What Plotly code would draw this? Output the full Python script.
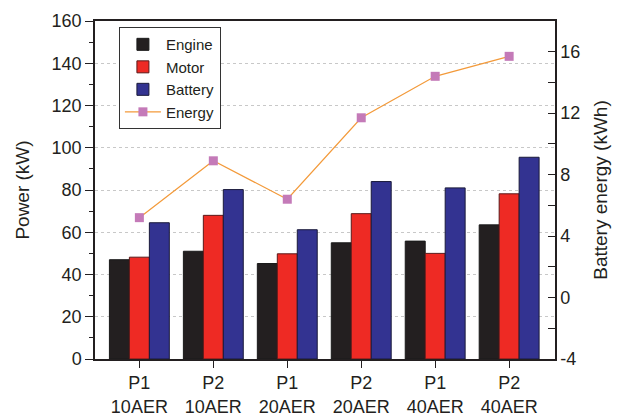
import plotly.graph_objects as go

categories = ["P1<br>10AER", "P2<br>10AER", "P1<br>20AER", "P2<br>20AER", "P1<br>40AER", "P2<br>40AER"]
engine = [47, 51, 45.2, 55, 55.8, 63.5]
motor = [48.2, 68, 49.8, 68.8, 50, 78.2]
battery = [64.5, 80.2, 61.2, 84, 81, 95.5]
energy = [5.2, 8.9, 6.4, 11.7, 14.4, 15.7]
y2_ticks = [-4, 0, 4, 8, 12, 16]
y2_ticktext = ["-4", "0", "4", "8", "12", "16"]

x = list(range(len(categories)))
font = "Liberation Sans, Arial, sans-serif"

fig = go.Figure()
fig.add_trace(go.Bar(name="Engine", x=x, y=engine, marker=dict(color="#231f20", line=dict(color="#1a1a1a", width=1))))
fig.add_trace(go.Bar(name="Motor", x=x, y=motor, marker=dict(color="#ee2a24", line=dict(color="#5a1a1a", width=1))))
fig.add_trace(go.Bar(name="Battery", x=x, y=battery, marker=dict(color="#333391", line=dict(color="#1a1a3a", width=1))))
fig.add_trace(go.Scatter(name="Energy", x=x, y=energy, yaxis="y2", mode="lines+markers",
                         line=dict(color="#f39a3a", width=1.2),
                         marker=dict(symbol="square", size=9, color="#c47ab8")))

fig.update_layout(
    width=627, height=416,
    margin=dict(l=95, r=72, t=21, b=57),
    plot_bgcolor="white", paper_bgcolor="white",
    barmode="group", bargap=0.19, bargroupgap=0,
    font=dict(family=font, size=18, color="#231f20"),
    showlegend=True,
    legend=dict(x=0.052, y=0.982, xanchor="left", yanchor="top",
                bordercolor="#333", borderwidth=1, bgcolor="white",
                font=dict(size=15), tracegroupgap=0, itemwidth=36),
    xaxis=dict(range=[-0.6, 5.62], tickmode="array", tickvals=x, ticktext=categories,
               showline=True, linecolor="#231f20", linewidth=1.5, mirror=True,
               ticks="outside", ticklen=7, tickcolor="#231f20", showgrid=False,
               zeroline=False, automargin=False),
    yaxis=dict(range=[0, 160], dtick=20, showline=True, linecolor="#231f20", linewidth=1.5,
               ticks="outside", ticklen=8, tickcolor="#231f20",
               minor=dict(dtick=10, ticks="outside", ticklen=4, tickcolor="#231f20", showgrid=False),
               showgrid=True, gridcolor="#c8c8c8", griddash="dot", gridwidth=1,
               zeroline=False, automargin=False,
               title=dict(text="Power (kW)", font=dict(size=19), standoff=17)),
    yaxis2=dict(range=[-4, 18], tickvals=y2_ticks, ticktext=y2_ticktext, overlaying="y", side="right",
                showline=True, linecolor="#231f20", linewidth=1.5,
                ticks="inside", ticklen=7, tickcolor="#231f20",
                minor=dict(tickvals=[-2, 2, 6, 10, 14, 18], ticks="inside", ticklen=7, tickcolor="#231f20", showgrid=False),
                showgrid=False, zeroline=False, automargin=False,
                title=dict(text="Battery energy (kWh)", font=dict(size=19), standoff=14)),
)

fig.write_html("out.html")
